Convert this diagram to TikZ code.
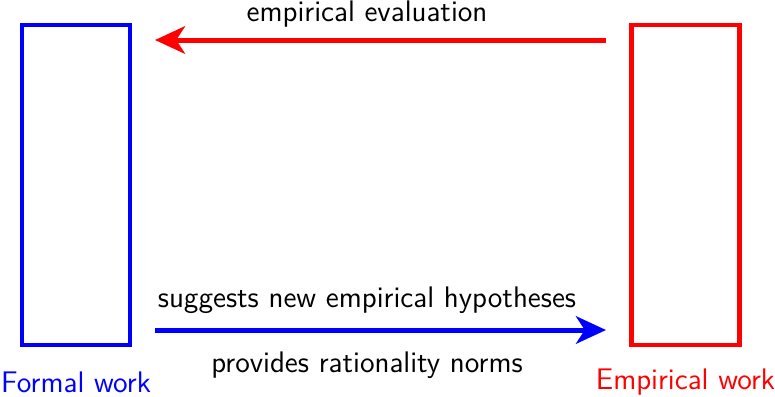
\documentclass[tikz,border=0pt]{standalone}
\usetikzlibrary{arrows.meta}
\begin{document}
\begin{tikzpicture}[x=0.4pt, y=-0.4pt, every node/.style={font=\sffamily\fontsize{11.9}{14}\selectfont},
  workbox/.style={draw, line width=1.8pt, minimum width=43.2pt, minimum height=128pt, inner sep=0pt},
  flow/.style={line width=2pt, -{Stealth[length=12pt, width=11pt, inset=3.5pt]}}]
  \useasboundingbox (0,0) rectangle (775,396);
  \node[workbox, blue] (formal) at (76,185) {};
  \node[workbox, red] (empirical) at (685.5,185) {};
  \node[blue] (formallbl) at (76,382) {Formal work};
  \node[red] (empiricallbl) at (685.5,382) {Empirical work};
  \coordinate (ta) at (606,40);
  \coordinate (tb) at (155,40);
  \coordinate (ba) at (155,330);
  \coordinate (bb) at (606,330);
  \draw[flow, red] (ta) -- (tb);
  \draw[flow, blue] (ba) -- (bb);
  \node (evaluation) at (367,14) {empirical evaluation};
  \node (hypotheses) at (367,300) {suggests new empirical hypotheses};
  \node (norms) at (367,365) {provides rationality norms};
\end{tikzpicture}
\end{document}
